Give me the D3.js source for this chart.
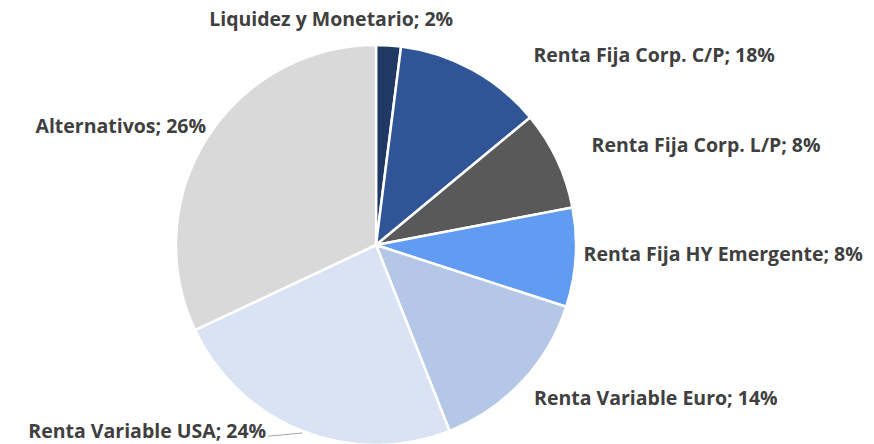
<!DOCTYPE html>
<html>
<head>
<meta charset="utf-8">
<script src="https://cdn.jsdelivr.net/npm/d3@7"></script>
<style>
  html, body { margin: 0; padding: 0; background: #fff; }
  svg { display: block; }
</style>
</head>
<body>
<script>
// slice shares as drawn (the printed labels don't all match the slices)
var categories = ["Liquidez y Monetario", "Renta Fija Corp. C/P", "Renta Fija Corp. L/P",
    "Renta Fija HY Emergente", "Renta Variable Euro", "Renta Variable USA", "Alternativos"];
var sliceValues = [2, 12, 8, 8, 14, 24, 32];
var labelPercents = [2, 18, 8, 8, 14, 24, 26];
var colors = ["#203864", "#2f5597", "#595959", "#629bf2", "#b4c7e7", "#dae3f3", "#d9d9d9"];

var width = 874,
    height = 444,
    cx = 376,
    cy = 245,
    radius = 200,
    labelRadius = 225;

// label tweaks (dx, dy, anchor) relative to the label arc point
var labelNudge = [
    { dx: -59, dy: 0, anchor: "middle" },
    { dx: 49, dy: 8, anchor: "start" },
    { dx: 12, dy: -3, anchor: "start" },
    { dx: -17, dy: -4, anchor: "start" },
    { dx: -6, dy: 0, anchor: "start" },
    { dx: -27, dy: -22, anchor: "end", leader: true },
    { dx: 20, dy: 3, anchor: "end" }
];

var svg = d3.select(document.body).append("svg")
    .attr("width", width)
    .attr("height", height);

var g = svg.append("g")
    .attr("transform", "translate(" + cx + "," + cy + ")");

var pie = d3.pie().sort(null).value(function (d) { return d; });
var arcs = pie(sliceValues);

var arc = d3.arc().innerRadius(0).outerRadius(radius);
var labelArc = d3.arc().innerRadius(labelRadius).outerRadius(labelRadius);
var edgeArc = d3.arc().innerRadius(radius).outerRadius(radius);

g.selectAll(".slice")
    .data(arcs)
    .enter().append("path")
    .attr("class", "slice")
    .attr("d", arc)
    .attr("fill", function (d, i) { return colors[i]; })
    .attr("stroke", "#fff")
    .attr("stroke-width", 2.5)
    .attr("stroke-linejoin", "round");

function labelPos(d, i) {
    // labelArc.centroid gives the point at labelRadius on the mid angle
    var p = labelArc.centroid(d);
    return [p[0] + labelNudge[i].dx, p[1] + 6 + labelNudge[i].dy];
}

// leader lines
g.selectAll(".leader")
    .data(arcs.filter(function (d, i) { return labelNudge[i].leader; }))
    .enter().append("line")
    .attr("class", "leader")
    .attr("x1", function (d) { return edgeArc.centroid(d)[0]; })
    .attr("y1", function (d) { return edgeArc.centroid(d)[1] + 2; })
    .attr("x2", function (d) {
        var i = arcs.indexOf(d);
        return labelPos(d, i)[0] + 2;
    })
    .attr("y2", function (d) {
        var i = arcs.indexOf(d);
        return labelPos(d, i)[1] - 2;
    })
    .attr("stroke", "#a6a6a6")
    .attr("stroke-width", 1);

g.selectAll(".label")
    .data(arcs)
    .enter().append("text")
    .attr("class", "label")
    .attr("x", function (d, i) { return labelPos(d, i)[0]; })
    .attr("y", function (d, i) { return labelPos(d, i)[1]; })
    .attr("text-anchor", function (d, i) { return labelNudge[i].anchor; })
    .attr("style", "font-family: 'Open Sans', sans-serif; font-weight: 700; font-size: 19.5px; fill: #404040;")
    .text(function (d, i) { return categories[i] + "; " + labelPercents[i] + "%"; });
</script>
</body>
</html>
